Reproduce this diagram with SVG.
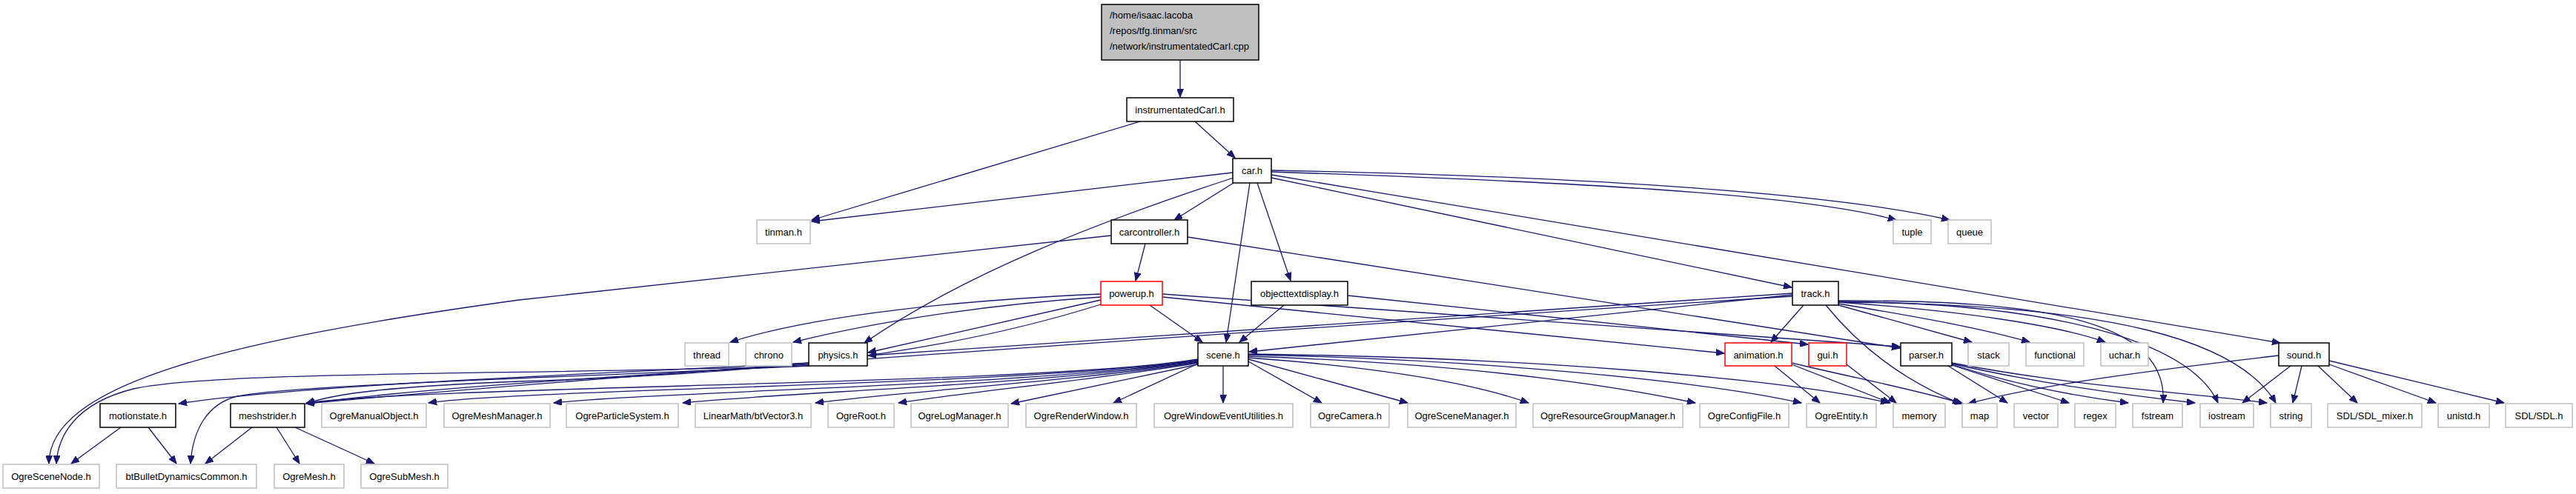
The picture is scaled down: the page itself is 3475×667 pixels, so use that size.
<svg xmlns="http://www.w3.org/2000/svg" width="3475" height="667" viewBox="0 0 3475 667">
<style>
.n rect{fill:#fff;stroke:#000;stroke-width:1.5}
.n.ext rect{stroke:#bfbfbf}
.n.trunc rect{stroke:#ff0000}
.n.root rect{fill:#bfbfbf}
text{font-family:"Liberation Sans",Arial,Helvetica,sans-serif;font-size:13px;fill:#000}
.n text{text-anchor:middle}
.n.root text{text-anchor:start}
#edges path{fill:none;stroke:#191970;stroke-width:1.3;marker-end:url(#ah)}
</style>
<defs>
<marker id="ah" markerUnits="userSpaceOnUse" markerWidth="12" markerHeight="9" refX="11" refY="4.5" orient="auto" viewBox="0 0 12 9">
<path d="M0,0 L11,4.5 L0,9 z" fill="#191970" stroke="#191970" stroke-width="1"/>
</marker>
</defs>
<rect width="3475" height="667" fill="#fff"/>
<g id="edges">
<path d="M1592,81 L1592,131"/>
<path d="M1612,164 L1666,213"/>
<path d="M1538,164 L1095,297"/>
<path d="M1663,233 L1095,299"/>
<path d="M1664,247 L1584,297"/>
<path d="M1664,240 C1480,300 1300,370 1166,463"/>
<path d="M1686,247 L1654,462"/>
<path d="M1696,247 L1741,379"/>
<path d="M1715,240 L2417,388"/>
<path d="M1715,236 L3076,463"/>
<path d="M1715,232 C2100,245 2420,260 2558,297"/>
<path d="M1715,230 C2150,238 2480,262 2630,297"/>
<path d="M1545,329 L1532,379"/>
<path d="M1499,318 L700,405 C300,460 66,520 66,626"/>
<path d="M1602,320 L2563,470"/>
<path d="M1551,412 L1622,462"/>
<path d="M1485,405 L1171,476"/>
<path d="M1485,397 C1300,405 1100,425 985,462"/>
<path d="M1485,401 C1350,410 1200,430 1070,462"/>
<path d="M1485,411 C1250,485 1000,505 700,515 C520,522 450,532 413,545"/>
<path d="M1568,401 L2326,477"/>
<path d="M1568,397 L2563,468"/>
<path d="M1732,412 L1672,462"/>
<path d="M1818,399 L2439,465"/>
<path d="M2418,398 L1685,475"/>
<path d="M2418,396 L1171,480"/>
<path d="M2418,400 C1800,440 900,500 413,545"/>
<path d="M2433,412 L2389,462"/>
<path d="M2480,412 L2660,462"/>
<path d="M2480,410 C2600,430 2680,445 2738,462"/>
<path d="M2480,408 C2650,420 2780,440 2840,462"/>
<path d="M2480,406 C2750,405 2925,430 2918,544"/>
<path d="M2480,407 C2800,410 2960,470 2992,544"/>
<path d="M2480,408 C2850,410 3020,460 3070,544"/>
<path d="M2463,412 C2510,470 2570,515 2645,545"/>
<path d="M3074,480 C2900,500 2750,520 2655,545"/>
<path d="M3090,494 L3025,544"/>
<path d="M3105,494 L3093,544"/>
<path d="M3127,494 L3180,544"/>
<path d="M3142,492 L3286,544"/>
<path d="M3142,487 L3378,544"/>
<path d="M2628,494 L2708,544"/>
<path d="M2633,493 L2791,544"/>
<path d="M2633,492 C2720,520 2800,535 2871,544"/>
<path d="M2633,491 C2760,520 2880,535 2961,544"/>
<path d="M2633,490 C2800,522 2950,530 3058,544"/>
<path d="M2394,494 L2455,544"/>
<path d="M2417,492 L2550,544"/>
<path d="M2417,490 C2500,510 2580,525 2648,545"/>
<path d="M2491,492 L2558,544"/>
<path d="M1650,494 L1650,544"/>
<path d="M1684,488 L1783,544"/>
<path d="M1684,485 L1899,544"/>
<path d="M1684,483 C1850,495 1980,515 2062,544"/>
<path d="M1684,481 C1950,490 2150,515 2287,544"/>
<path d="M1684,479 C2000,485 2300,515 2430,544"/>
<path d="M1684,478 C2050,482 2400,510 2548,544"/>
<path d="M1616,491 L1502,544"/>
<path d="M1616,492 L1364,545"/>
<path d="M1616,490 C1500,510 1300,530 1212,544"/>
<path d="M1616,489 C1450,515 1200,530 1100,544"/>
<path d="M1616,488 C1400,520 1050,530 921,544"/>
<path d="M1616,487 C1400,520 900,528 747,544"/>
<path d="M1616,486 C1400,520 700,525 578,544"/>
<path d="M1616,485 C1400,520 600,520 413,544"/>
<path d="M1091,490 C800,505 400,520 241,545"/>
<path d="M1091,492 C900,505 600,520 413,545"/>
<path d="M1091,494 C700,507 300,500 180,525 C100,545 78,590 76,626"/>
<path d="M1091,494 C700,512 400,520 320,535 C280,545 260,580 257,626"/>
<path d="M163,577 L96,626"/>
<path d="M200,577 L238,626"/>
<path d="M340,577 L277,626"/>
<path d="M373,577 L404,626"/>
<path d="M398,577 L505,626"/>
</g>
<g id="root" class="n root"><rect x="1486" y="6" width="212" height="75"/><text x="1497" y="25">/home/isaac.lacoba</text><text x="1497" y="46">/repos/tfg.tinman/src</text><text x="1497" y="67">/network/instrumentatedCarI.cpp</text></g>
<g id="instrumentatedCarI_h" class="n"><rect x="1520" y="132" width="144" height="32"/><text x="1592" y="152.5">instrumentatedCarI.h</text></g>
<g id="car_h" class="n"><rect x="1663" y="214" width="52" height="33"/><text x="1689" y="235">car.h</text></g>
<g id="tinman_h" class="n ext"><rect x="1021" y="297" width="72" height="32"/><text x="1057" y="317.5">tinman.h</text></g>
<g id="carcontroller_h" class="n"><rect x="1499" y="297" width="103" height="32"/><text x="1550.5" y="317.5">carcontroller.h</text></g>
<g id="tuple" class="n ext"><rect x="2554" y="297" width="51" height="32"/><text x="2579.5" y="317.5">tuple</text></g>
<g id="queue" class="n ext"><rect x="2628" y="297" width="58" height="32"/><text x="2657" y="317.5">queue</text></g>
<g id="powerup_h" class="n trunc"><rect x="1485" y="380" width="83" height="32"/><text x="1526.5" y="400.5">powerup.h</text></g>
<g id="objecttextdisplay_h" class="n"><rect x="1688" y="380" width="130" height="32"/><text x="1753" y="400.5">objecttextdisplay.h</text></g>
<g id="track_h" class="n"><rect x="2418" y="380" width="62" height="32"/><text x="2449" y="400.5">track.h</text></g>
<g id="thread" class="n ext"><rect x="924" y="463" width="59" height="31"/><text x="953.5" y="483.5">thread</text></g>
<g id="chrono" class="n ext"><rect x="1006" y="463" width="62" height="31"/><text x="1037" y="483.5">chrono</text></g>
<g id="physics_h" class="n"><rect x="1091" y="463" width="79" height="31"/><text x="1130.5" y="483.5">physics.h</text></g>
<g id="scene_h" class="n"><rect x="1616" y="463" width="68" height="31"/><text x="1650" y="483.5">scene.h</text></g>
<g id="animation_h" class="n trunc"><rect x="2327" y="463" width="90" height="31"/><text x="2372" y="483.5">animation.h</text></g>
<g id="gui_h" class="n trunc"><rect x="2440" y="463" width="51" height="31"/><text x="2465.5" y="483.5">gui.h</text></g>
<g id="parser_h" class="n"><rect x="2564" y="463" width="69" height="31"/><text x="2598.5" y="483.5">parser.h</text></g>
<g id="stack" class="n ext"><rect x="2655" y="463" width="55" height="31"/><text x="2682.5" y="483.5">stack</text></g>
<g id="functional" class="n ext"><rect x="2733" y="463" width="78" height="31"/><text x="2772" y="483.5">functional</text></g>
<g id="uchar_h" class="n ext"><rect x="2834" y="463" width="64" height="31"/><text x="2866" y="483.5">uchar.h</text></g>
<g id="sound_h" class="n"><rect x="3074" y="463" width="68" height="31"/><text x="3108" y="483.5">sound.h</text></g>
<g id="motionstate_h" class="n"><rect x="135" y="545" width="102" height="32"/><text x="186" y="565.5">motionstate.h</text></g>
<g id="meshstrider_h" class="n"><rect x="311" y="545" width="100" height="32"/><text x="361" y="565.5">meshstrider.h</text></g>
<g id="OgreManualObject_h" class="n ext"><rect x="434" y="545" width="141" height="32"/><text x="504.5" y="565.5">OgreManualObject.h</text></g>
<g id="OgreMeshManager_h" class="n ext"><rect x="599" y="545" width="143" height="32"/><text x="670.5" y="565.5">OgreMeshManager.h</text></g>
<g id="OgreParticleSystem_h" class="n ext"><rect x="764" y="545" width="151" height="32"/><text x="839.5" y="565.5">OgreParticleSystem.h</text></g>
<g id="btVector3_h" class="n ext"><rect x="938" y="545" width="156" height="32"/><text x="1016" y="565.5">LinearMath/btVector3.h</text></g>
<g id="OgreRoot_h" class="n ext"><rect x="1117" y="545" width="89" height="32"/><text x="1161.5" y="565.5">OgreRoot.h</text></g>
<g id="OgreLogManager_h" class="n ext"><rect x="1229" y="545" width="131" height="32"/><text x="1294.5" y="565.5">OgreLogManager.h</text></g>
<g id="OgreRenderWindow_h" class="n ext"><rect x="1384" y="545" width="149" height="32"/><text x="1458.5" y="565.5">OgreRenderWindow.h</text></g>
<g id="OgreWindowEventUtilities_h" class="n ext"><rect x="1557" y="545" width="187" height="32"/><text x="1650.5" y="565.5">OgreWindowEventUtilities.h</text></g>
<g id="OgreCamera_h" class="n ext"><rect x="1768" y="545" width="106" height="32"/><text x="1821" y="565.5">OgreCamera.h</text></g>
<g id="OgreSceneManager_h" class="n ext"><rect x="1899" y="545" width="146" height="32"/><text x="1972" y="565.5">OgreSceneManager.h</text></g>
<g id="OgreResourceGroupManager_h" class="n ext"><rect x="2068" y="545" width="202" height="32"/><text x="2169" y="565.5">OgreResourceGroupManager.h</text></g>
<g id="OgreConfigFile_h" class="n ext"><rect x="2293" y="545" width="120" height="32"/><text x="2353" y="565.5">OgreConfigFile.h</text></g>
<g id="OgreEntity_h" class="n ext"><rect x="2437" y="545" width="94" height="32"/><text x="2484" y="565.5">OgreEntity.h</text></g>
<g id="memory" class="n ext"><rect x="2554" y="545" width="70" height="32"/><text x="2589" y="565.5">memory</text></g>
<g id="map" class="n ext"><rect x="2647" y="545" width="47" height="32"/><text x="2670.5" y="565.5">map</text></g>
<g id="vector" class="n ext"><rect x="2717" y="545" width="59" height="32"/><text x="2746.5" y="565.5">vector</text></g>
<g id="regex" class="n ext"><rect x="2799" y="545" width="55" height="32"/><text x="2826.5" y="565.5">regex</text></g>
<g id="fstream" class="n ext"><rect x="2877" y="545" width="67" height="32"/><text x="2910.5" y="565.5">fstream</text></g>
<g id="iostream" class="n ext"><rect x="2968" y="545" width="72" height="32"/><text x="3004" y="565.5">iostream</text></g>
<g id="string" class="n ext"><rect x="3063" y="545" width="55" height="32"/><text x="3090.5" y="565.5">string</text></g>
<g id="SDL_mixer_h" class="n ext"><rect x="3140" y="545" width="127" height="32"/><text x="3203.5" y="565.5">SDL/SDL_mixer.h</text></g>
<g id="unistd_h" class="n ext"><rect x="3289" y="545" width="69" height="32"/><text x="3323.5" y="565.5">unistd.h</text></g>
<g id="SDL_h" class="n ext"><rect x="3380" y="545" width="90" height="32"/><text x="3425" y="565.5">SDL/SDL.h</text></g>
<g id="OgreSceneNode_h" class="n ext"><rect x="4" y="627" width="130" height="32"/><text x="69" y="647.5">OgreSceneNode.h</text></g>
<g id="btBulletDynamicsCommon_h" class="n ext"><rect x="157" y="627" width="189" height="32"/><text x="251.5" y="647.5">btBulletDynamicsCommon.h</text></g>
<g id="OgreMesh_h" class="n ext"><rect x="370" y="627" width="94" height="32"/><text x="417" y="647.5">OgreMesh.h</text></g>
<g id="OgreSubMesh_h" class="n ext"><rect x="487" y="627" width="117" height="32"/><text x="545.5" y="647.5">OgreSubMesh.h</text></g>
</svg>
